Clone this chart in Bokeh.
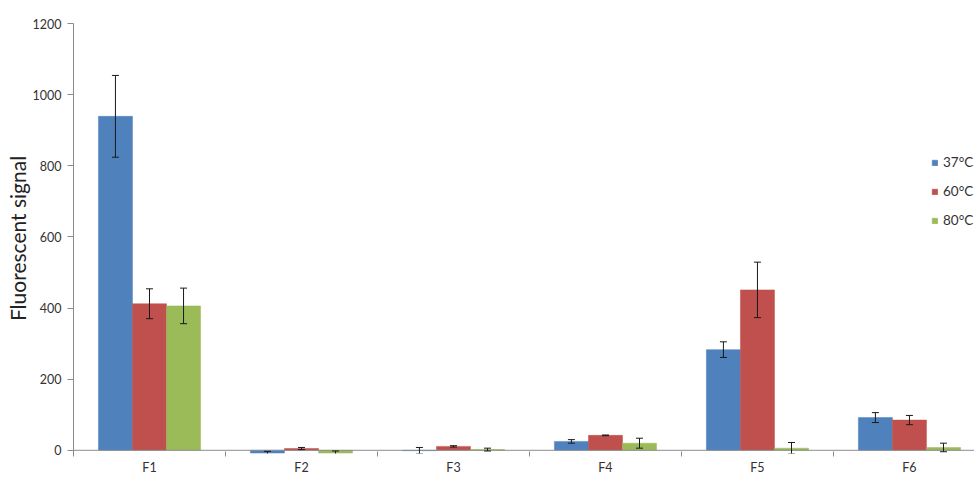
from bokeh.plotting import figure
from bokeh.models import ColumnDataSource, Whisker, TeeHead, FixedTicker, Span, Range1d, Legend
from bokeh.embed import file_html
from bokeh.resources import INLINE

categories = ["F1", "F2", "F3", "F4", "F5", "F6"]
series_names = ["37°C", "60°C", "80°C"]
vals_37 = [939, -8, -1, 25, 283, 92]
err_37 = [115, 5, 9, 5, 22, 14]
vals_60 = [412, 5, 11, 42, 451, 85]
err_60 = [42, 3, 2, 1, 78, 13]
vals_80 = [406, -8, 2, 20, 6, 8]
err_80 = [50, 6, 4, 14, 16, 12]
y_ticks = [0, 200, 400, 600, 800, 1000, 1200]

colors = ["#4F81BD", "#C0504D", "#9BBB59"]
FONT = "Lato"

p = figure(width=974, height=477, output_backend="svg", toolbar_location=None,
           x_range=Range1d(0, 5.928), y_range=Range1d(-9, 1200),
           min_border_left=73, min_border_right=0, min_border_top=23, min_border_bottom=0)
p.outline_line_color = None
p.grid.visible = False
p.background_fill_color = "white"
p.border_fill_color = "white"

bw = 0.224
offsets = [-bw, 0.0, bw]
all_vals = [vals_37, vals_60, vals_80]
all_errs = [err_37, err_60, err_80]
centers = [i + 0.5 for i in range(len(categories))]

items = []
for k in range(3):
    xs = [c + offsets[k] for c in centers]
    src = ColumnDataSource(dict(
        x=xs, top=all_vals[k],
        upper=[v + e for v, e in zip(all_vals[k], all_errs[k])],
        lower=[v - e for v, e in zip(all_vals[k], all_errs[k])],
    ))
    r = p.vbar(x="x", top="top", bottom=0, width=bw, source=src,
               fill_color=colors[k], line_color=colors[k], line_width=0.5)
    items.append((series_names[k], [r]))
    w = Whisker(base="x", upper="upper", lower="lower", source=src, dimension="height",
                level="overlay", line_color="#1a1a1a", line_width=1,
                upper_head=TeeHead(size=7, line_color="#1a1a1a", line_width=1),
                lower_head=TeeHead(size=7, line_color="#1a1a1a", line_width=1))
    p.add_layout(w)

# horizontal axis line at zero
p.add_layout(Span(location=0, dimension="width", line_color="#8c8c8c", line_width=1))

# x axis
xa = p.xaxis[0]
xa.ticker = FixedTicker(ticks=centers, minor_ticks=[float(i) for i in range(len(categories) + 1)])
xa.major_label_overrides = {c: cat for c, cat in zip(centers, categories)}
xa.axis_line_color = None
xa.major_tick_line_color = None
xa.minor_tick_line_color = "#8c8c8c"
xa.minor_tick_in = 2
xa.minor_tick_out = 3
xa.major_tick_in = 0
xa.major_tick_out = 0
xa.major_label_standoff = 3
xa.major_label_text_font = FONT
xa.major_label_text_font_size = "12.5px"
xa.major_label_text_color = "#333333"

# y axis
ya = p.yaxis[0]
ya.ticker = FixedTicker(ticks=y_ticks)
ya.minor_tick_line_color = None
ya.axis_line_color = "#8c8c8c"
ya.major_tick_line_color = "#8c8c8c"
ya.major_tick_in = 0
ya.major_tick_out = 6
ya.major_label_standoff = 6
ya.major_label_text_font = FONT
ya.major_label_text_font_size = "12.5px"
ya.major_label_text_color = "#333333"
ya.axis_label = "Fluorescent signal"
ya.axis_label_text_font = FONT
ya.axis_label_text_font_size = "21px"
ya.axis_label_text_font_style = "normal"
ya.axis_label_text_color = "#222222"
ya.axis_label_standoff = 0

legend = Legend(items=items, location=(858, 223), orientation="vertical",
                background_fill_alpha=0, border_line_color=None,
                glyph_width=7, glyph_height=7, label_height=20, spacing=9,
                label_standoff=5, padding=0, margin=0,
                label_text_font=FONT, label_text_font_size="13.5px", label_text_color="#333333")
p.add_layout(legend)

open("out.html", "w").write(file_html(p, INLINE))
